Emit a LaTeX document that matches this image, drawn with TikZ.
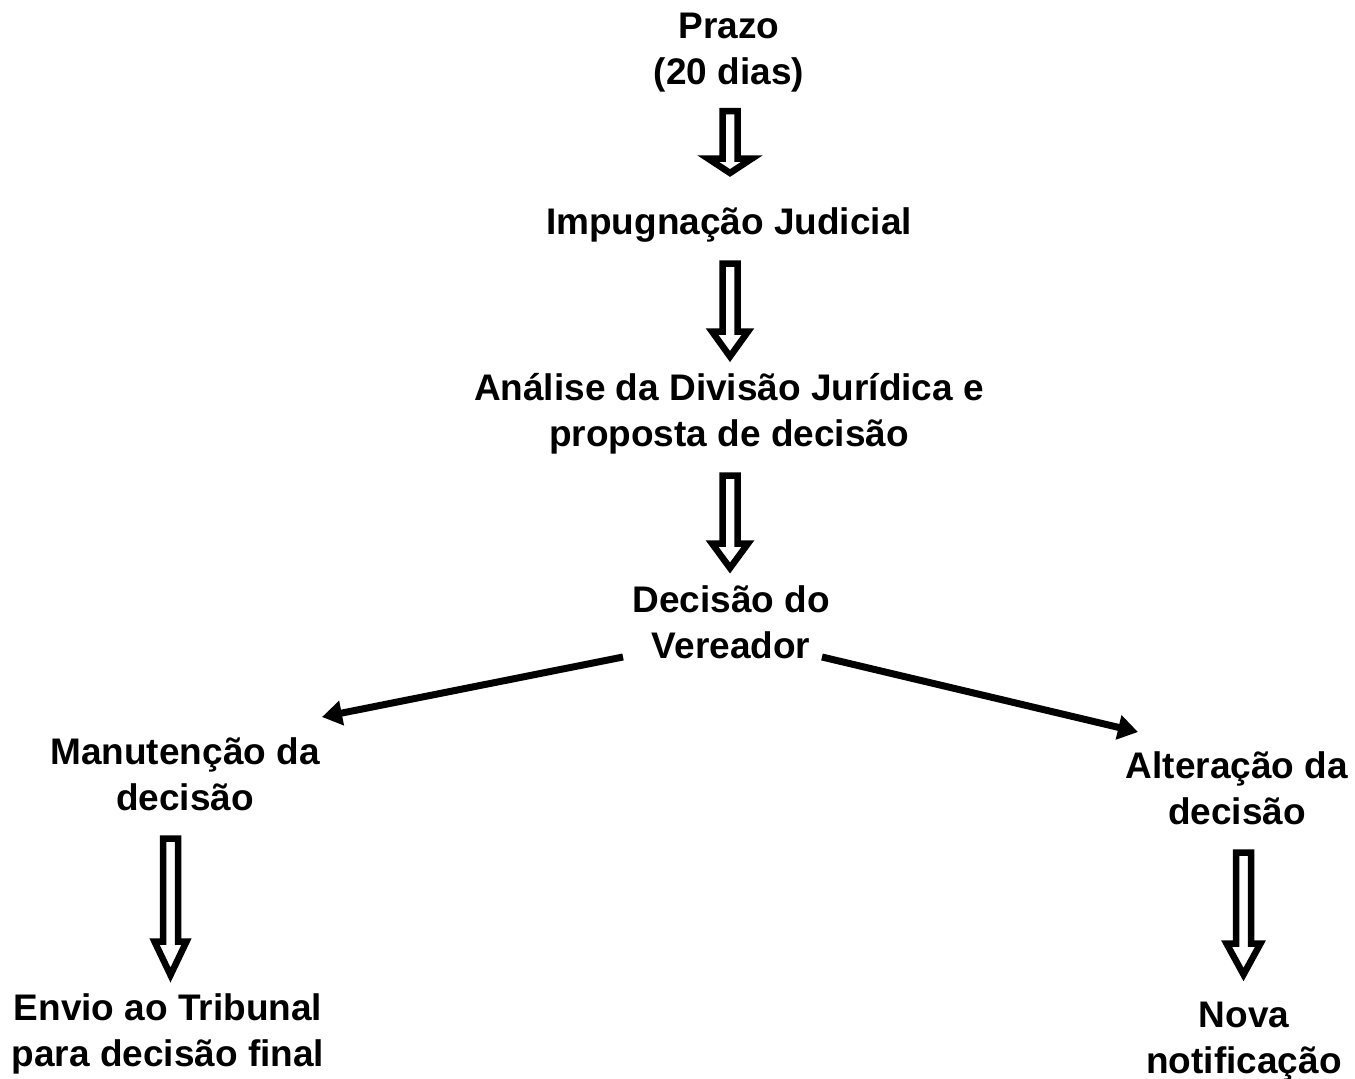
\documentclass[tikz,border=0pt]{standalone}
\usepackage{fontspec}
\setmainfont{Liberation Sans}
\usetikzlibrary{calc,arrows.meta}
\newcommand\ls{\rule[-10pt]{0pt}{40pt}}
\newcommand\hollowarrow[4]{%
  \draw[hollowstyle] let \p1=(#1), \p2=(#2) in
    (\x1-7.5pt,\y1) -- (\x1+7.5pt,\y1) -- (\x1+7.5pt,\y2+#3) -- (\x1+#4,\y2+#3)
    -- (\x1,\y2) -- (\x1-#4,\y2+#3) -- (\x1-7.5pt,\y2+#3) -- cycle;}
\tikzset{
  lbl/.style={inner sep=0pt, align=center, font=\bfseries\fontsize{37}{46}\selectfont},
  hollowstyle/.style={draw=black, fill=white, line width=6.5pt, line join=miter, miter limit=10},
  thinarrow/.style={draw=black, line width=7pt, -{Triangle[length=20pt,width=24pt]}, shorten >=0pt}
}
\begin{document}
\begin{tikzpicture}[x=1pt,y=-1pt]
\fill[white] (0,0) rectangle (1355,1079);
\useasboundingbox (0,0) rectangle (1355,1079);
% text nodes
\node[lbl] (prazo) at (729,51) {\ls Prazo\\\ls (20 dias)};
\node[lbl] (imp) at (729,224) {\ls Impugnação Judicial};
\node[lbl] (ana) at (729,413.5) {\ls Análise da Divisão Jurídica e\\\ls proposta de decisão};
\node[lbl] (dec) at (731,625.5) {\ls Decisão do\\\ls Vereador};
\node[lbl] (man) at (185,777.5) {\ls Manutenção da\\\ls decisão};
\node[lbl] (alt) at (1237,791) {\ls Alteração da\\\ls decisão};
\node[lbl] (env) at (168,1033.5) {\ls Envio ao Tribunal\\\ls para decisão final};
\node[lbl] (nova) at (1244,1040.5) {\ls Nova\\\ls notificação};
% connector end points
\coordinate (a1s) at (730,111);   \coordinate (a1e) at (730,173);
\coordinate (a2s) at (730,263.5); \coordinate (a2e) at (730,356.5);
\coordinate (a3s) at (730,475.5); \coordinate (a3e) at (730,568);
\coordinate (a4s) at (170.5,838.5); \coordinate (a4e) at (170.5,975);
\coordinate (a5s) at (1243.5,852.5); \coordinate (a5e) at (1243.5,974.5);
\coordinate (dl) at (623,657); \coordinate (ml) at (322,717);
\coordinate (dr) at (822,657); \coordinate (ar) at (1138,732);
% hollow arrows
\hollowarrow{a1s}{a1e}{14.5pt}{22pt}
\hollowarrow{a2s}{a2e}{25pt}{18pt}
\hollowarrow{a3s}{a3e}{24.5pt}{18pt}
\hollowarrow{a4s}{a4e}{33.5pt}{16pt}
\hollowarrow{a5s}{a5e}{31pt}{17pt}
% diagonal arrows
\draw[thinarrow] (dl) -- (ml);
\draw[thinarrow] (dr) -- (ar);
\end{tikzpicture}
\end{document}
